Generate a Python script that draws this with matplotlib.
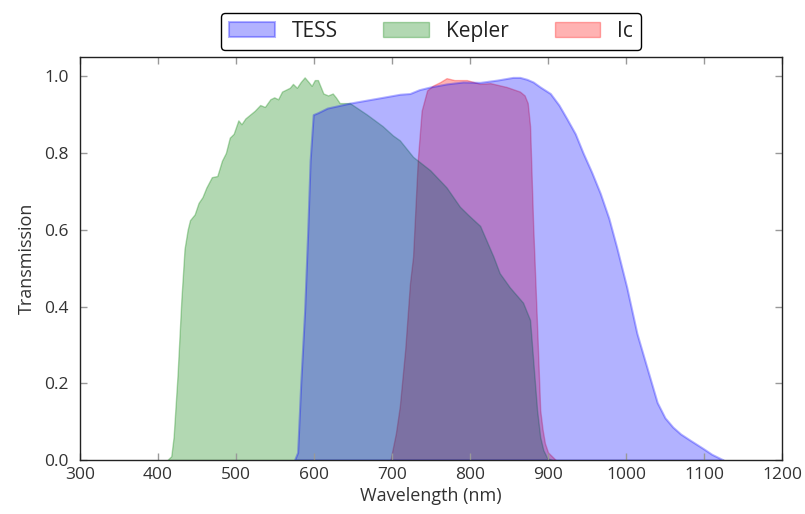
import matplotlib
matplotlib.use("Agg")
import matplotlib.pyplot as plt
import numpy as np

# TESS bandpass (nm, transmission)
tess_wl = [575, 579, 583, 588, 592, 595, 599, 605, 617, 646, 688, 710, 723, 735, 749, 770, 791, 813,
           835, 855, 864, 873, 881, 890, 903, 914, 924, 935, 945, 956, 967, 978, 988, 1001,
           1014, 1027, 1040, 1050, 1060, 1070, 1082, 1099, 1110, 1120, 1125]
tess_tr = [0.0, 0.02, 0.2, 0.39, 0.6, 0.78, 0.90, 0.905, 0.917, 0.93, 0.945, 0.953, 0.955, 0.965, 0.972, 0.98, 0.985, 0.984,
           0.99, 0.997, 0.997, 0.992, 0.985, 0.972, 0.955, 0.925, 0.89, 0.85, 0.80, 0.75, 0.695, 0.63, 0.555, 0.45,
           0.33, 0.24, 0.15, 0.11, 0.086, 0.068, 0.052, 0.03, 0.015, 0.005, 0.0]

# Kepler bandpass
kep_wl = [412, 417, 420, 425, 430, 434, 438, 441, 447, 452, 457, 462, 469, 476, 482, 487, 492, 497,
          503, 507, 512, 518, 524, 531, 537, 544, 549, 554, 559, 564, 569, 573, 578, 583, 588, 593,
          597, 601, 605, 608, 612, 618, 624, 628, 633, 646, 668, 688, 701, 710, 727, 749, 770, 787,
          797, 813, 830, 838, 851, 868, 877, 881, 886, 890, 894, 899, 905]
kep_tr = [0.0, 0.01, 0.06, 0.22, 0.42, 0.55, 0.6, 0.625, 0.64, 0.67, 0.685, 0.71, 0.737, 0.74, 0.78, 0.80, 0.84, 0.85,
          0.885, 0.875, 0.89, 0.90, 0.91, 0.925, 0.92, 0.94, 0.945, 0.94, 0.96, 0.965, 0.97, 0.98, 0.97, 0.985, 0.997, 0.985,
          0.975, 0.99, 0.99, 0.975, 0.955, 0.95, 0.955, 0.945, 0.93, 0.93, 0.90, 0.87, 0.846, 0.833, 0.79, 0.755, 0.71, 0.66,
          0.64, 0.61, 0.53, 0.487, 0.45, 0.41, 0.365, 0.26, 0.13, 0.06, 0.026, 0.005, 0.0]

# Cousins Ic bandpass
ic_wl = [698, 700, 705, 710, 717, 723, 727, 733, 738, 745, 752, 762, 770, 780, 796, 813, 826,
         847, 864, 870, 874, 877, 879, 881, 886, 890, 893, 896, 900, 906, 910]
ic_tr = [0.0, 0.02, 0.07, 0.14, 0.29, 0.46, 0.53, 0.78, 0.91, 0.963, 0.975, 0.985, 0.995, 0.99, 0.99, 0.98, 0.982,
         0.972, 0.96, 0.95, 0.93, 0.87, 0.74, 0.61, 0.35, 0.13, 0.08, 0.044, 0.02, 0.008, 0.0]

plt.rcParams['font.family'] = ['Open Sans', 'DejaVu Sans']

fig = plt.figure(figsize=(8.05, 5.14), dpi=100)
ax = fig.add_axes([0.0994, 0.105, 0.872, 0.784])

# draw order: Ic, Kepler, then TESS on top
h_ic = ax.fill_between(ic_wl, ic_tr, color='red', alpha=0.3, lw=1.0, label='Ic')
h_kep = ax.fill_between(kep_wl, kep_tr, color='green', alpha=0.3, lw=1.0, label='Kepler')
h_tess = ax.fill_between(tess_wl, tess_tr, color='blue', alpha=0.3, lw=1.5, label='TESS')

ax.set_xlim(300, 1200)
ax.set_ylim(0, 1.05)
ax.set_xticks(np.arange(300, 1201, 100))
ax.set_yticks(np.arange(0, 1.01, 0.2))
ax.tick_params(direction='in', top=True, right=True, length=5, width=1, color='#999999',
               labelsize=12.5, labelcolor='#333333')
ax.tick_params(axis='x', pad=5)
ax.tick_params(axis='y', pad=8)
for s in ax.spines.values():
    s.set_linewidth(1.0)
    s.set_color('#222222')

ax.set_xlabel('Wavelength (nm)', fontsize=13, color='#333333', labelpad=3)
ax.set_ylabel('Transmission', fontsize=13, color='#333333', labelpad=6)

leg = ax.legend(handles=[h_tess, h_kep, h_ic], labels=['TESS', 'Kepler', 'Ic'],
                loc='lower center', bbox_to_anchor=(0.5, 1.017), ncol=3, fontsize=15,
                frameon=True, fancybox=True, borderaxespad=0, columnspacing=2.2,
                handlelength=2.2, handletextpad=0.8, borderpad=0.4)
leg.get_frame().set_edgecolor('black')
leg.get_frame().set_linewidth(1.0)
leg.get_frame().set_alpha(1.0)
for t in leg.get_texts():
    t.set_color('#222222')

fig.savefig('out.png', dpi=100)
